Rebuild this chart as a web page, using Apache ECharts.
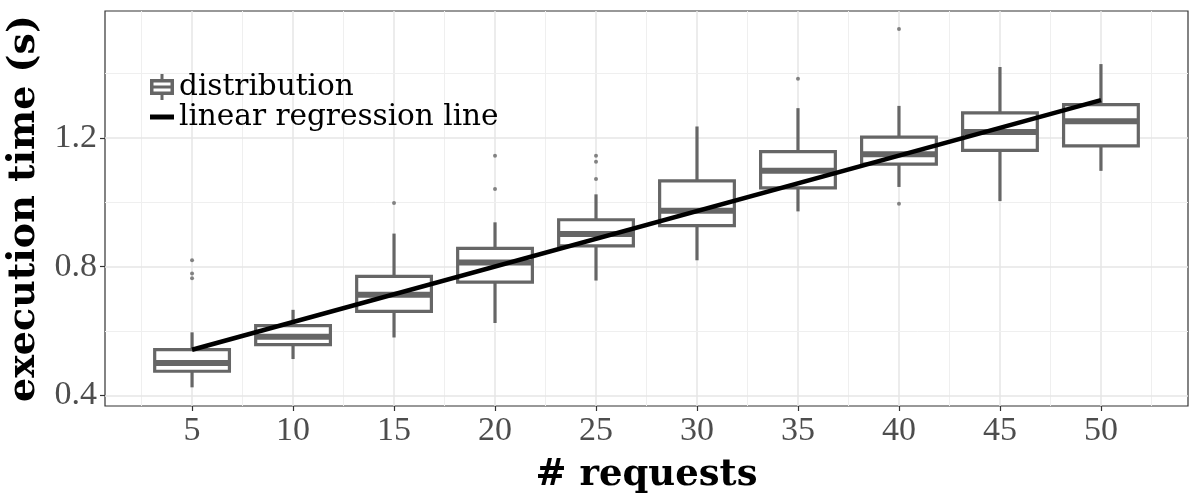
<!DOCTYPE html>
<html>
<head>
<meta charset="utf-8">
<script src="https://cdn.jsdelivr.net/npm/echarts@6/dist/echarts.min.js"></script>
<style>
  html, body { margin: 0; padding: 0; background: #fff; }
  #chart { width: 1200px; height: 495px; }
</style>
</head>
<body>
<div id="chart"></div>
<script>
  // values
  var requests = [5, 10, 15, 20, 25, 30, 35, 40, 45, 50];
  var whiskerLow = [0.425, 0.513, 0.580, 0.625, 0.757, 0.820, 0.972, 1.048, 1.004, 1.098];
  var q1 = [0.475, 0.558, 0.661, 0.752, 0.865, 0.928, 1.045, 1.119, 1.162, 1.176];
  var medians = [0.501, 0.582, 0.713, 0.813, 0.902, 0.974, 1.098, 1.150, 1.219, 1.252];
  var q3 = [0.542, 0.617, 0.770, 0.857, 0.946, 1.067, 1.158, 1.203, 1.278, 1.304];
  var whiskerHigh = [0.596, 0.666, 0.903, 0.938, 1.025, 1.236, 1.293, 1.300, 1.421, 1.430];

  var outlierX = [5, 5, 5, 15, 20, 20, 25, 25, 25, 35, 40, 40];
  var outlierY = [0.820, 0.779, 0.764, 0.998, 1.145, 1.042, 1.145, 1.126, 1.073, 1.384, 1.539, 0.996];

  var regressionX = [5, 50];
  var regressionY = [0.542, 1.318];

  var xTicks = [5, 10, 15, 20, 25, 30, 35, 40, 45, 50];
  var xMinor = [2.5, 7.5, 12.5, 17.5, 22.5, 27.5, 32.5, 37.5, 42.5, 47.5, 52.5];
  var yTicks = [0.4, 0.8, 1.2];
  var yMinor = [0.6, 1.0, 1.4];

  var BOX_W = 3.7;        // box width in request units
  var GREY = '#666666';

  var chart = echarts.init(document.getElementById('chart'));

  var boxData = requests.map(function (r, i) {
    return [r, whiskerLow[i], q1[i], medians[i], q3[i], whiskerHigh[i]];
  });
  var outliers = outlierX.map(function (x, i) { return [x, outlierY[i]]; });
  var regression = regressionX.map(function (x, i) { return [x, regressionY[i]]; });

  var gridLines = [];
  xTicks.forEach(function (v) { gridLines.push({ xAxis: v, lineStyle: { color: '#e6e6e6', width: 1.5 } }); });
  xMinor.forEach(function (v) { gridLines.push({ xAxis: v, lineStyle: { color: '#efefef', width: 1 } }); });
  yTicks.forEach(function (v) { gridLines.push({ yAxis: v, lineStyle: { color: '#e6e6e6', width: 1.5 } }); });
  yMinor.forEach(function (v) { gridLines.push({ yAxis: v, lineStyle: { color: '#efefef', width: 1 } }); });

  // legend icon: box with whiskers and median
  var BOX_ICON = 'path://M0,5H24V21H0Z M3.5,8.5V17.5H20.5V8.5Z M3,11.5H21V14.5H3Z M10.5,0H13.5V5H10.5Z M10.5,21H13.5V26H10.5Z';

  var tickFont = { fontFamily: 'Liberation Serif', fontSize: 34, color: '#4d4d4d' };
  var titleFont = { fontFamily: 'DejaVu Serif', fontWeight: 'bold', fontSize: 37, color: '#000' };
  var legendFont = { fontFamily: 'DejaVu Serif', fontSize: 29.5, color: '#000' };

  var option = {
    backgroundColor: '#fff',
    animation: false,
    grid: {
      left: 105, right: 12, top: 11, bottom: 89,
      show: true, borderColor: '#333', borderWidth: 1.2,
      containLabel: false, outerBoundsMode: 'none'
    },
    legend: [{
      data: [{ name: 'distribution', icon: BOX_ICON, itemStyle: { color: GREY, borderWidth: 0 } }],
      left: 150, top: 72, padding: 0,
      itemWidth: 24, itemHeight: 26,
      selectedMode: false,
      textStyle: legendFont
    }, {
      data: [{ name: 'linear regression line', icon: 'rect', itemStyle: { color: '#000', borderWidth: 0 } }],
      left: 150, top: 102, padding: 0,
      itemWidth: 24, itemHeight: 5,
      selectedMode: false,
      textStyle: legendFont
    }],
    xAxis: {
      type: 'value',
      min: 0.69, max: 54.31,
      name: '# requests',
      nameLocation: 'middle',
      nameGap: 51,
      nameTextStyle: titleFont,
      axisLine: { show: false },
      axisTick: { show: true, customValues: xTicks, length: 5, lineStyle: { color: '#333', width: 1.2 } },
      axisLabel: Object.assign({ customValues: xTicks, margin: 8, formatter: '{value}' }, tickFont),
      splitLine: { show: false }
    },
    yAxis: {
      type: 'value',
      min: 0.367, max: 1.595,
      name: 'execution time (s)',
      nameLocation: 'middle',
      nameRotate: 90,
      nameGap: 48,
      nameTextStyle: Object.assign({}, titleFont, { fontSize: 38 }),
      axisLine: { show: false },
      axisTick: { show: true, customValues: yTicks, length: 5, lineStyle: { color: '#333', width: 1.2 } },
      axisLabel: Object.assign({
        customValues: yTicks, margin: 8,
        formatter: function (v) { return v.toFixed(1); }
      }, tickFont),
      splitLine: { show: false }
    },
    series: [{
      name: 'distribution',
      type: 'custom',
      z: 3,
      itemStyle: { color: GREY },
      encode: { x: 0, y: [1, 2, 3, 4, 5] },
      data: boxData,
      renderItem: function (params, api) {
        var x = api.value(0);
        var lo = api.coord([x, api.value(1)]);
        var b1 = api.coord([x, api.value(2)]);
        var md = api.coord([x, api.value(3)]);
        var b3 = api.coord([x, api.value(4)]);
        var hi = api.coord([x, api.value(5)]);
        var half = api.size([BOX_W, 0])[0] / 2;
        var stroke = { stroke: GREY, lineWidth: 3.2, fill: null };
        return {
          type: 'group',
          children: [
            { type: 'line', shape: { x1: hi[0], y1: hi[1], x2: b3[0], y2: b3[1] }, style: stroke },
            { type: 'line', shape: { x1: lo[0], y1: lo[1], x2: b1[0], y2: b1[1] }, style: stroke },
            { type: 'rect', shape: { x: b3[0] - half, y: b3[1], width: 2 * half, height: b1[1] - b3[1] },
              style: { stroke: GREY, lineWidth: 3.2, fill: '#fff' } },
            { type: 'line', shape: { x1: md[0] - half, y1: md[1], x2: md[0] + half, y2: md[1] },
              style: { stroke: GREY, lineWidth: 6 } }
          ]
        };
      }
    }, {
      name: 'outliers',
      type: 'scatter',
      z: 4,
      symbolSize: 4,
      itemStyle: { color: GREY },
      data: outliers,
      markLine: {
        silent: true,
        z: 1,
        symbol: ['none', 'none'],
        label: { show: false },
        emphasis: { disabled: true },
        lineStyle: { type: 'solid' },
        data: gridLines
      }
    }, {
      name: 'linear regression line',
      type: 'line',
      z: 5,
      symbol: 'none',
      lineStyle: { color: '#000', width: 4.5 },
      itemStyle: { color: '#000' },
      data: regression
    }]
  };

  chart.setOption(option);
</script>
</body>
</html>
